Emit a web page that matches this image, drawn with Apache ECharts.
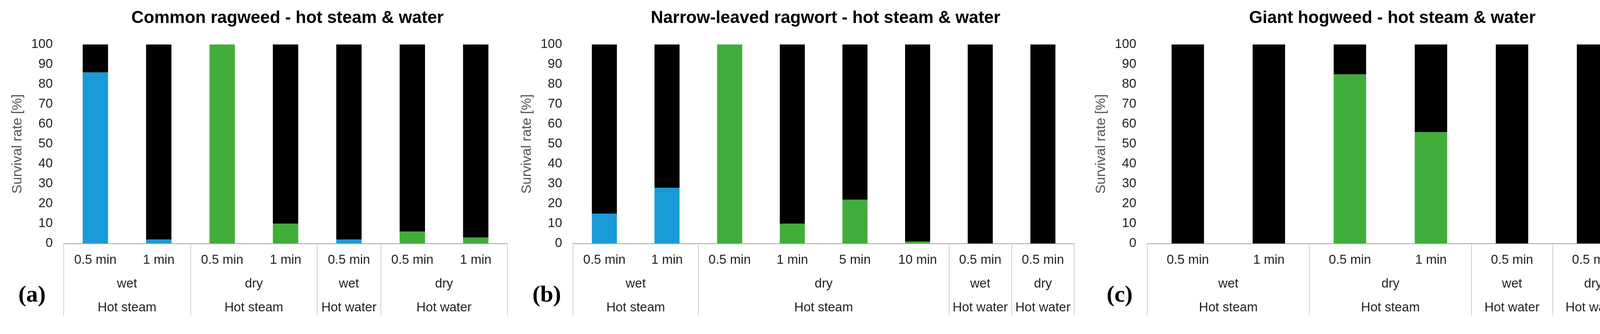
<!DOCTYPE html>
<html>
<head>
<meta charset="UTF-8">
<script src="https://cdn.jsdelivr.net/npm/echarts@6/dist/echarts.min.js"></script>
<style>
  html, body { margin: 0; background: #fff; }
  #chart { width: 4205px; height: 856px; }
</style>
</head>
<body>
<div id="chart"></div>
<script>
// panel (a) Common ragweed
const catsA = ['0.5 min', '1 min', '0.5 min', '1 min', '0.5 min', '0.5 min', '1 min'];
const blueA = [86, 2, 0, 0, 2, 0, 0];
const greenA = [0, 0, 100, 10, 0, 6, 3];
const groupsA = [[0, 2, 'wet', 'Hot steam'], [2, 4, 'dry', 'Hot steam'], [4, 5, 'wet', 'Hot water'], [5, 7, 'dry', 'Hot water']];

// panel (b) Narrow-leaved ragwort
const catsB = ['0.5 min', '1 min', '0.5 min', '1 min', '5 min', '10 min', '0.5 min', '0.5 min'];
const blueB = [15, 28, 0, 0, 0, 0, 0, 0];
const greenB = [0, 0, 100, 10, 22, 1, 0, 0];
const groupsB = [[0, 2, 'wet', 'Hot steam'], [2, 6, 'dry', 'Hot steam'], [6, 7, 'wet', 'Hot water'], [7, 8, 'dry', 'Hot water']];

// panel (c) Giant hogweed
const catsC = ['0.5 min', '1 min', '0.5 min', '1 min', '0.5 min', '0.5 min'];
const blueC = [0, 0, 0, 0, 0, 0];
const greenC = [0, 0, 85, 56, 0, 0];
const groupsC = [[0, 2, 'wet', 'Hot steam'], [2, 4, 'dry', 'Hot steam'], [4, 5, 'wet', 'Hot water'], [5, 6, 'dry', 'Hot water']];

const panels = [
  { title: 'Common ragweed - hot steam & water', tag: '(a)', cats: catsA, blue: blueA, green: greenA, groups: groupsA, left: 163, width: 1136, tagX: 42 },
  { title: 'Narrow-leaved ragwort - hot steam & water', tag: '(b)', cats: catsB, blue: blueB, green: greenB, groups: groupsB, left: 1467, width: 1283, tagX: 1358 },
  { title: 'Giant hogweed - hot steam & water', tag: '(c)', cats: catsC, blue: blueC, green: greenC, groups: groupsC, left: 2937, width: 1245, tagX: 2828 }
];

const FONT = '"Liberation Sans", Arial, sans-serif';
const TOP = 114, HEIGHT = 510;

const option = { animation: false, title: [], grid: [], xAxis: [], yAxis: [], series: [] };

panels.forEach((p, i) => {
  const n = p.cats.length;
  option.title.push({
    text: p.title, left: p.left + p.width / 2, top: 20, textAlign: 'center',
    textStyle: { fontFamily: FONT, fontSize: 44, fontWeight: 'bold', color: '#000' }
  });
  option.title.push({
    text: p.tag, left: p.tagX, top: 722,
    textStyle: { fontFamily: '"Liberation Serif", serif', fontSize: 60, fontWeight: 'bold', color: '#000' }
  });
  option.grid.push({ left: p.left, width: p.width, top: TOP, height: HEIGHT, outerBoundsMode: 'none', containLabel: false });

  const bounds = new Set();
  p.groups.forEach(g => { bounds.add(g[0]); bounds.add(g[1]); });
  const row2 = {}, row3 = {};
  p.groups.forEach(g => { const c = (g[0] + g[1]) / 2; row2[c] = g[2]; row3[c] = g[3]; });

  const xi = option.xAxis.length;
  option.xAxis.push({
    type: 'category', gridIndex: i, data: p.cats,
    axisLine: { lineStyle: { color: '#bfbfbf', width: 3 } },
    axisTick: { show: true, length: 184, alignWithLabel: false, interval: idx => bounds.has(idx), lineStyle: { color: '#d0d0d0', width: 2 } },
    axisLabel: { interval: 0, margin: 26, fontFamily: FONT, fontSize: 33, color: '#222' }
  });
  [[row2, 87], [row3, 148]].forEach(([map, margin]) => {
    option.xAxis.push({
      type: 'value', gridIndex: i, min: 0, max: n, interval: 0.5, position: 'bottom',
      axisLine: { show: false }, axisTick: { show: false }, splitLine: { show: false },
      axisLabel: { margin, fontFamily: FONT, fontSize: 33, color: '#222', showMinLabel: true, showMaxLabel: true,
        hideOverlap: false, formatter: v => map[v] || '' }
    });
  });
  option.yAxis.push({
    type: 'value', gridIndex: i, min: 0, max: 100, interval: 10,
    name: 'Survival rate [%]', nameLocation: 'middle', nameGap: 100,
    nameTextStyle: { fontFamily: FONT, fontSize: 35, color: '#555' },
    axisLine: { show: false }, axisTick: { show: false }, splitLine: { show: false },
    axisLabel: { margin: 28, fontFamily: FONT, fontSize: 33, color: '#222', showMinLabel: true, showMaxLabel: true }
  });
  const black = p.cats.map((_, k) => 100 - p.blue[k] - p.green[k]);
  const base = { type: 'bar', xAxisIndex: xi, yAxisIndex: i, stack: 's' + i, barWidth: '40%' };
  option.series.push({ ...base, data: p.blue, itemStyle: { color: '#1a9ad6' } });
  option.series.push({ ...base, data: p.green, itemStyle: { color: '#41ad3a' } });
  option.series.push({ ...base, data: black, itemStyle: { color: '#000' } });
});

echarts.init(document.getElementById('chart')).setOption(option);
</script>
</body>
</html>
